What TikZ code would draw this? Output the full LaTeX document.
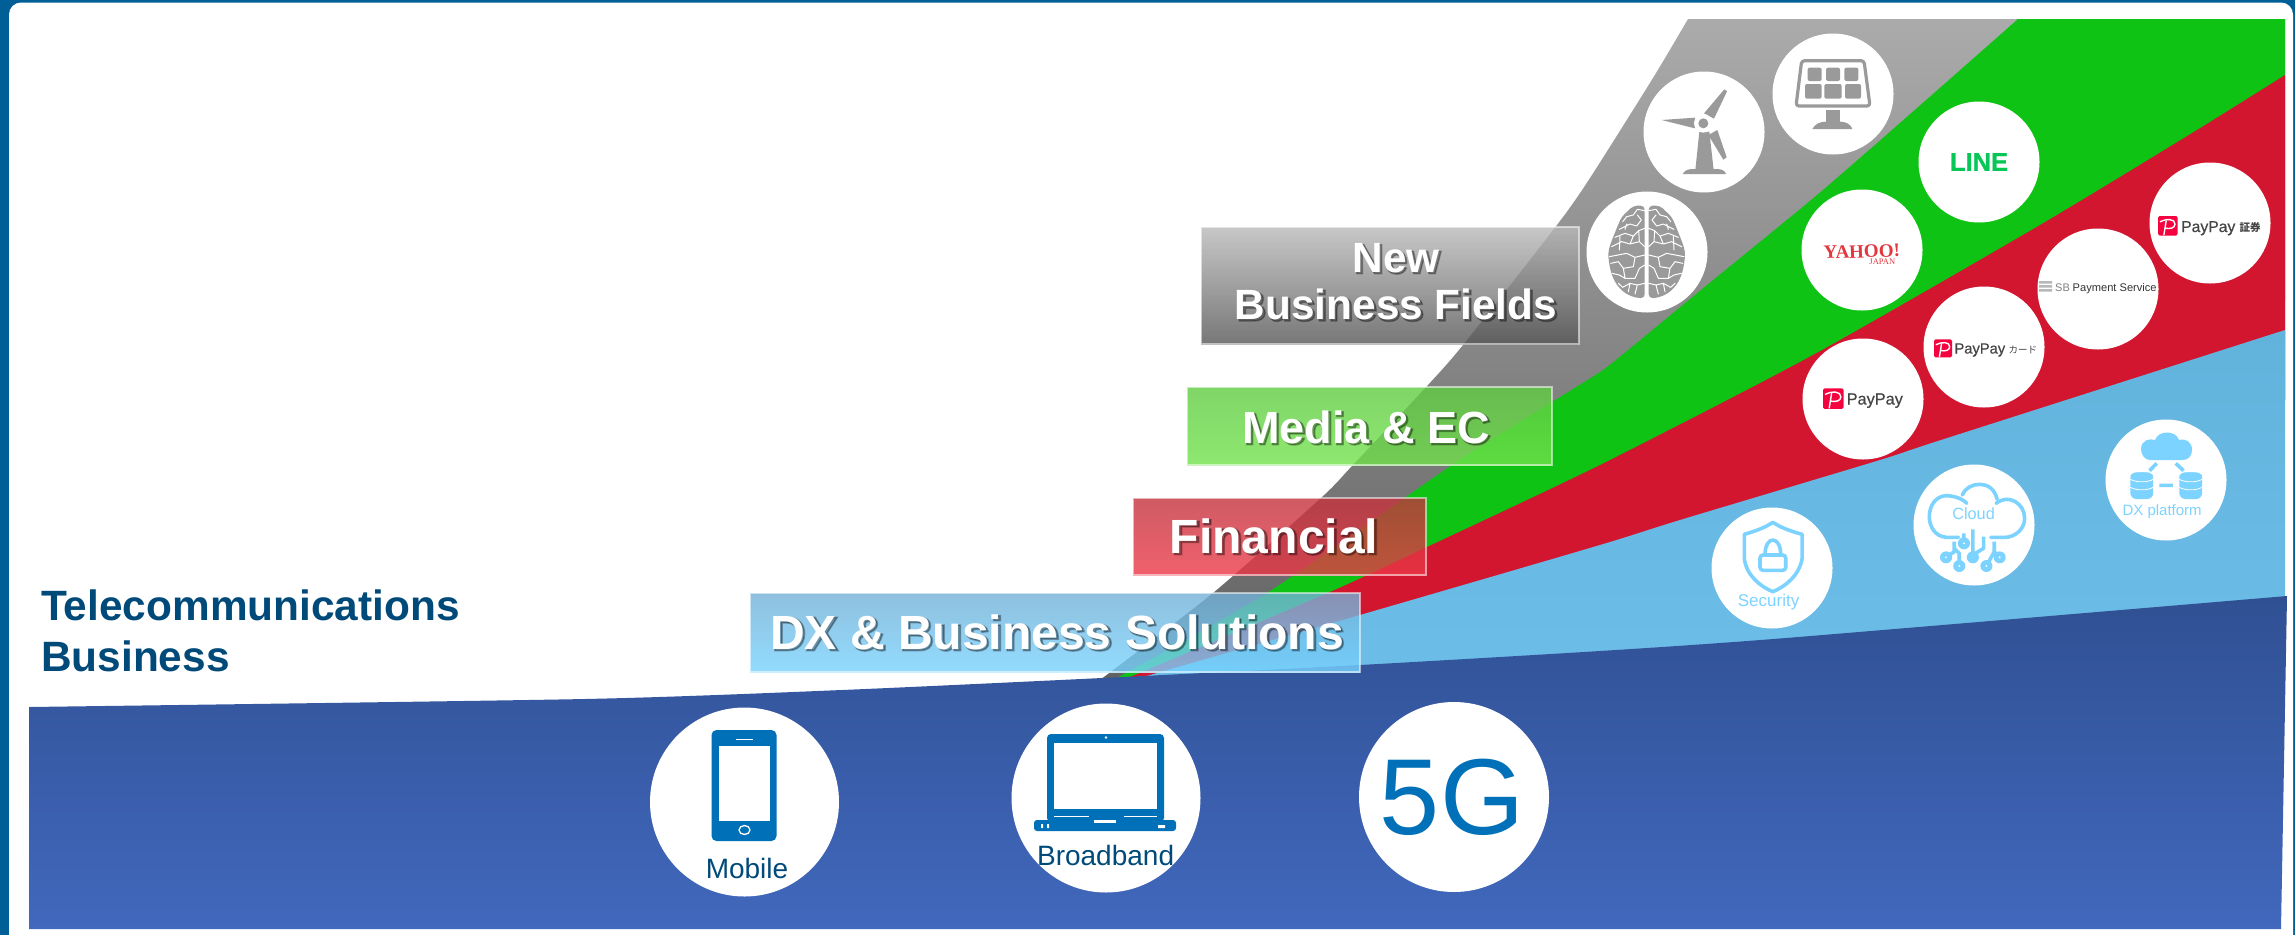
\documentclass[tikz,border=0pt]{standalone}
\usepackage{fontspec}
\setmainfont{Liberation Sans}
\newfontfamily\cjkfont{Noto Sans CJK JP}
\newfontfamily\serifx{Liberation Serif}
\newfontfamily\glowfont[FakeBold=3.5]{Liberation Sans Bold}
\newfontfamily\payfont[FakeBold=.5]{Liberation Sans}
\newfontfamily\linefont[FakeBold=1]{Liberation Sans Bold}
\definecolor{framec}{HTML}{005F96}
\definecolor{navy}{HTML}{004A7A}
\definecolor{iconb}{HTML}{0070B8}
\definecolor{iconl}{HTML}{7DD3FF}
\definecolor{greyi}{HTML}{9A9A9A}
\definecolor{bandg}{HTML}{0FC315}
\definecolor{bandr}{HTML}{D31630}
\definecolor{payred}{HTML}{F5033F}
\definecolor{payt}{HTML}{454545}
\definecolor{linec}{HTML}{06C755}
\definecolor{yah}{HTML}{E2373F}
\newcommand\fsz[1]{\fontsize{#1}{#1}\selectfont}
\newcommand\paylogo[3]{\begin{scope}[shift={(#1,#2)},scale=#3]
  \fill[payred,rounded corners=1.5pt] (0,0) rectangle (1,1);
  \draw[white,line width=1.4pt] (.1,.3) .. controls (.45,.12) and (.88,.14) .. (.87,.42) .. controls (.86,.62) and (.62,.68) .. (.36,.62);
  \draw[white,line width=1.4pt] (.42,.24) -- (.3,.98);
\end{scope}}
\tikzset{
  x=1pt,y=-1pt,
  disc/.style={circle,fill=white,minimum size=#1,inner sep=0pt},
  disc/.default=121pt,
  tag/.style={inner sep=0pt,anchor=base},
  ptag/.style={inner sep=0pt,anchor=base west,text=payt},
  boxedge/.style={draw=white,draw opacity=.55,line width=1.5pt,fill opacity=.8},
  glow/.style={inner sep=0pt,text=black,opacity=.3},
  ticon/.style={draw=iconl,line width=3.6pt,line cap=round,line join=round},
}
\usetikzlibrary{calc}
\newcommand\glowtext[5]{% name, anchor, position, font size, text
  \node[glow,anchor=#2,font=\glowfont\fsz{#4},align=center] (#1s) at ($(#3)+(1.5,1.5)$) {#5};
  \node[inner sep=0pt,anchor=#2,text=white,font=\bfseries\fsz{#4},align=center] (#1) at (#3) {#5};}
\begin{document}
\begin{tikzpicture}
\useasboundingbox (0,0) rectangle (2295,935);
\fill[framec] (0,0) rectangle (2295,935);
\fill[white,rounded corners=12pt] (9,2.5) rectangle (2293,948);
% bands
\shade[top color=black!33,bottom color=black!62]
  plot[smooth,tension=.4] coordinates {(1100,680) (1213,593) (1322,497) (1352,466) (1428,385) (1463,345) (1557,225) (1590,178) (1653,78) (1688,19)}
  -- (2285,19) -- (2285,400) -- (1200,680) -- cycle;
\fill[bandg] plot[smooth,tension=.4] coordinates {(1113,680) (1267,593) (1452,465) (1552,402) (1600,372) (1622,355) (1707,285) (1817,195) (1917,108) (2018,19)}
  -- (2285,19) -- (2285,300) -- (1300,680) -- cycle;
\fill[bandr] plot[smooth,tension=.4] coordinates {(1123,680) (1330,592) (1427,547) (1600,465) (1813,355) (2040,225) (2197,130) (2285,75)}
  -- (2285,400) -- (1500,680) -- cycle;
\shade[top color={rgb,255:red,98;green,179;blue,220},bottom color={rgb,255:red,108;green,189;blue,232}]
  plot[smooth,tension=.4] coordinates {(1135,680) (1150,675) (1360,615) (1600,545) (1680,520) (1880,460) (1941,440) (2285,330)}
  -- (2285,600) -- (1786,640) -- (1400,670) -- cycle;
\shade[top color={rgb,255:red,48;green,80;blue,147},bottom color={rgb,255:red,65;green,104;blue,189}]
  plot[smooth,tension=.4] coordinates {(29,707) (585,699) (842,690) (1102,678) (1360,665) (1600,651) (1786,638) (2287,596)}
  -- (2281,929) -- (29,929) -- cycle;
% telecom discs
\node[disc=189pt] (mob) at (744.5,802) {};
\node[disc=189pt] (bro) at (1106,798) {};
\node[disc=190pt] (fiveg) at (1454,797) {};
% mobile icon
\fill[iconb,rounded corners=5pt] (711.5,730) rectangle (776.5,841);
\fill[white] (719,746) rectangle (770,821);
\draw[white,line width=1.3pt] (736,739.5) -- (753,739.5);
\draw[white,line width=1.3pt] (744.5,830) ellipse (5.5 and 4.5);
\node[tag,text=navy,font=\fsz{28}] (mobt) at (747,878) {Mobile};
% laptop icon
\fill[iconb,rounded corners=4pt] (1047,734) rectangle (1164,822);
\fill[white] (1054,743) rectangle (1157,809);
\fill[white] (1106,737.5) circle (1.3);
\fill[iconb,rounded corners=3pt] (1034,820) rectangle (1176,831);
\draw[white,line width=1pt] (1054,816) -- (1089,816) (1124,816) -- (1157,816);
\fill[white] (1041,824) rectangle (1043,828) (1047,824) rectangle (1049,828) (1158,825) rectangle (1165,828);
\fill[white] (1094,820) rectangle (1116,823);
\node[tag,text=navy,font=\fsz{28}] (brot) at (1105.6,865) {Broadband};
\node[tag,text=iconb,font=\fsz{108}] (fivet) at (1452,834) {5G};
% discs
\node[disc] (brain) at (1647,252) {};
\node[disc] (wind) at (1704,132) {};
\node[disc] (solar) at (1833,94) {};
\node[disc] (yahoo) at (1862,250) {};
\node[disc] (linec) at (1979,162) {};
\node[disc] (pps) at (2210,223) {};
\node[disc] (sbp) at (2098,289) {};
\node[disc] (ppc) at (1984,347) {};
\node[disc] (ppy) at (1863,399) {};
\node[disc] (dxp) at (2166,480) {};
\node[disc] (cloud) at (1974,525) {};
\node[disc] (secu) at (1772,568) {};
% wind / solar / brain in zoom coordinates
\begin{scope}[shift={(1580,20)},scale=1/3]
\fill[greyi] (245,300) -- (345,293) -- (345,325) -- cycle;
\fill[greyi] (433,208) -- (441,214) -- (402,296) -- (372,280) -- cycle;
\fill[greyi] (385,345) -- (412,330) -- (440,412) -- (430,419) -- cycle;
\fill[greyi] (358,335) -- (346,450) -- (401,450) -- (388,335) -- cycle;
\fill[greyi] (308,462) .. controls (315,450) and (325,447) .. (340,447) -- (410,447) .. controls (425,447) and (435,452) .. (438,462) -- cycle;
\fill[white] (370,310) circle (28);
\fill[greyi] (370,310) circle (15);
\draw[greyi,line width=3.2pt,line join=round,rounded corners=3pt] (665,122) -- (852,122) -- (870,258) -- (648,258) -- cycle;
\foreach \a/\b/\c/\d in {683/143/725/183,738/143/780/183,793/143/835/183,675/192/725/236,733/192/785/236,795/192/843/236}
  \fill[greyi,rounded corners=2pt] (\a,\b) rectangle (\c,\d);
\fill[greyi] (737,270) rectangle (780,306);
\fill[greyi] (697,327) .. controls (705,312) and (720,305) .. (737,305) -- (780,305) .. controls (797,305) and (812,312) .. (817,327) -- cycle;
% brain
\fill[greyi,rounded corners=4pt] (194,557) -- (160,557) -- (145,572) -- (125,590) -- (112,620) -- (100,650) -- (90,675) -- (84,700) -- (88,735) -- (95,765) -- (110,795) -- (135,820) -- (165,833) -- (194,835) -- cycle;
\fill[greyi,rounded corners=4pt] (206,557) -- (240,557) -- (255,572) -- (275,590) -- (288,620) -- (300,650) -- (310,675) -- (316,700) -- (312,735) -- (305,765) -- (290,795) -- (265,820) -- (235,833) -- (206,835) -- cycle;
\foreach \m in {1,-1}{
\begin{scope}[shift={(200,0)},xscale=\m,shift={(-200,0)}]
\draw[white,line width=1pt,line join=round,line cap=round]
 (194,572) -- (172,568) -- (160,585) -- (140,590) -- (128,605)
 (172,585) -- (184,600) -- (170,618) -- (150,612) -- (118,628)
 (194,625) -- (176,632) -- (160,648) -- (135,640) -- (105,652)
 (140,612) -- (135,628)
 (176,632) -- (178,665) -- (150,672) -- (125,665) -- (95,680)
 (160,648) -- (150,672)
 (194,680) -- (178,665)
 (120,650) -- (118,690)
 (194,705) -- (165,712) -- (140,700) -- (88,710)
 (165,712) -- (160,740) -- (130,745) -- (115,725) -- (92,730)
 (194,735) -- (178,745) -- (165,775) -- (135,775) -- (118,765) -- (96,760)
 (130,745) -- (135,775)
 (194,790) -- (172,795) -- (150,790) -- (128,802) -- (115,790)
 (172,795) -- (165,822)
 (150,790) -- (145,815);
\end{scope}}
\end{scope}
% logos
\node[inner sep=0pt,text=linec,font=\linefont\fsz{25.5}] (linet) at (1979,162) {LINE};
\node[inner sep=0pt,text=yah,rotate=2,font=\serifx\bfseries\fsz{19}] (yahoot) at (1861.7,251.5) {YAHOO!};
\node[inner sep=0pt,text=yah,font=\serifx\fsz{8.5}] (yahooj) at (1882.3,261.5) {JAPAN};
\paylogo{1823}{388.3}{20.5}
\node[ptag,font=\payfont\fsz{16.3}] (ppyt) at (1846.5,404.5) {PayPay};
\paylogo{1934}{339.3}{18}
\node[ptag,font=\payfont\fsz{14.7}] (ppct) at (1954.3,353.5) {PayPay};
\node[ptag,font=\cjkfont\fsz{9.5}] (ppcc) at (2008.3,353) {カード};
\paylogo{2158}{216}{19.5}
\node[ptag,font=\payfont\fsz{15.7}] (ppst) at (2181,232) {PayPay};
\node[ptag,font=\cjkfont\bfseries\fsz{10.5}] (ppsc) at (2239.5,231.5) {証券};
\fill[black!28] (2039,281) rectangle (2052,283.5) (2039,285) rectangle (2052,287.5) (2039,289) rectangle (2052,291.5);
\node[inner sep=0pt,anchor=base west,text=black!50,font=\fsz{11}] (sbt) at (2055,291) {SB};
\node[inner sep=0pt,anchor=base west,text=black!80,font=\fsz{11.1}] (sbn) at (2072.5,291) {Payment Service};
% security
\begin{scope}[shift={(1680,440)},xscale=1/2.8,yscale=1/3]
\draw[ticon] (260,247) .. controls (235,265) and (205,275) .. (180,283) -- (180,355) .. controls (185,405) and (225,440) .. (260,455) .. controls (295,440) and (335,405) .. (342,355) -- (342,283) .. controls (315,275) and (285,265) .. (260,247) -- cycle;
\draw[ticon,rounded corners=3pt] (224,345) rectangle (296,391);
\draw[ticon] (238,345) .. controls (238,285) and (282,285) .. (282,345);
\node[inner sep=0pt,text=iconl,font=\fsz{17}] (sect) at (248,487) {Security};
% cloud
\draw[ticon] (780,292) -- (745,292) .. controls (680,285) and (685,170) .. (745,167) .. controls (765,167) and (790,175) .. (803,190);
\draw[ticon] (790,165) .. controls (805,125) and (875,115) .. (888,178);
\draw[ticon] (885,190) .. controls (920,160) and (965,190) .. (965,235) .. controls (965,270) and (935,292) .. (910,292) -- (870,292);
\node[inner sep=0pt,text=iconl,font=\fsz{16.3}] (cldt) at (822,222) {Cloud};
\foreach \a/\b in {795/310,820/352,745/352,782/378,858/378,895/352}
  \fill[iconl] (\a,\b) ellipse (17 and 18);
\draw[ticon,line cap=butt] (795,280) -- (795,310) (820,268) -- (820,350) (850,290) -- (850,325) -- (820,345)
 (768,305) -- (768,335) -- (745,352) (782,378) -- (782,340) -- (768,325)
 (880,305) -- (880,335) -- (858,378) (880,335) -- (895,352);
\foreach \a/\b in {795/310,745/352,782/378,858/378,895/352}
  \fill[white] (\a,\b) circle (3);
% dx platform
\draw[ticon,line cap=butt] (1335,70) -- (1315,92) (1388,70) -- (1410,92) (1342,136) -- (1380,136);
\foreach \a in {1293,1430}{
  \fill[iconl,rounded corners=6pt] (\a-32,97) rectangle (\a+32,177);
  \fill[iconl] (\a,108) ellipse (32 and 11);
  \draw[white,line width=.8pt] (\a-32,118) .. controls (\a-15,128) and (\a+15,128) .. (\a+32,118);
  \draw[white,line width=.8pt] (\a-32,142) .. controls (\a-15,152) and (\a+15,152) .. (\a+32,142);
}
\node[inner sep=0pt,text=iconl,font=\fsz{15}] (dxt) at (1350,215) {DX platform};
\end{scope}
\fill[iconl] (2141,449) .. controls (2141,440) and (2150,438) .. (2155,440) .. controls (2158,430) and (2176,430) .. (2179,440) .. controls (2186,438) and (2192,442) .. (2192,450) .. controls (2192,456) and (2188,460) .. (2183,460) -- (2150,460) .. controls (2145,460) and (2141,455) .. (2141,449) -- cycle;
% translucent boxes
\shade[boxedge,top color={rgb,255:red,186;green,186;blue,186},bottom color={rgb,255:red,86;green,86;blue,86}] (1201,227) rectangle (1579,344);
\shade[boxedge,top color={rgb,255:red,96;green,204;blue,66},bottom color={rgb,255:red,114;green,226;blue,76}] (1187,387) rectangle (1552,465);
\shade[boxedge,top color={rgb,255:red,195;green,51;blue,61},bottom color={rgb,255:red,236;green,56;blue,71}] (1133,498) rectangle (1426,575);
\shade[boxedge,top color={rgb,255:red,116;green,176;blue,214},bottom color={rgb,255:red,119;green,211;blue,255}] (750,593) rectangle (1360,672);
% labels
\glowtext{newt}{center}{1396,281.5}{42.3}{New\\[5pt]Business Fields}
\glowtext{medt}{base}{1366,443}{45}{Media \& EC}
\glowtext{fint}{base}{1274,553}{48}{Financial}
\glowtext{dxbt}{base}{1057,649}{48}{DX \& Business Solutions}
\node[inner sep=0pt,anchor=west,align=left,text=navy,font=\bfseries\fontsize{42.4}{51}\selectfont] (telt) at (41,630.5) {Telecommunications\\Business};
\end{tikzpicture}
\end{document}
